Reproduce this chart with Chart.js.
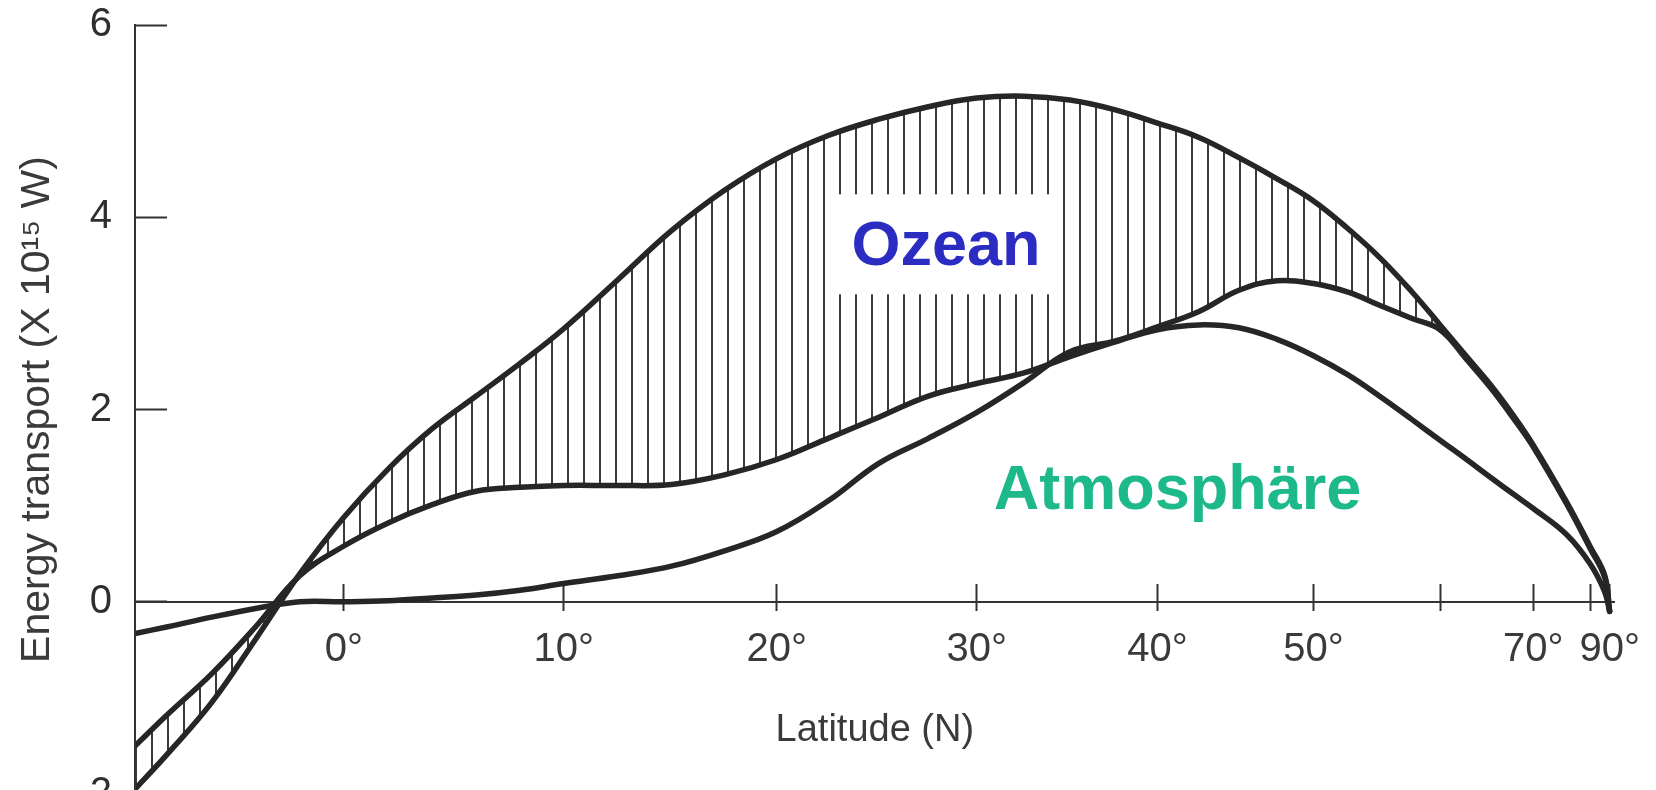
<!DOCTYPE html>
<html>
<head>
<meta charset="utf-8">
<title>Energy transport</title>
<script src="https://cdn.jsdelivr.net/npm/chart.js@4.4.0/dist/chart.umd.min.js"></script>
<style>
  html, body { margin: 0; padding: 0; background: #fff; overflow: hidden; }
</style>
</head>
<body>
<canvas id="myChart" width="1656" height="830"></canvas>
<script>
// latitude (degrees N) of every reading, x axis is drawn in sin(latitude)
const latitudes = [-9.5, -8, -6, -4, -2, 0, 2, 4, 6, 8, 10, 12.5, 15, 17.5, 20, 22.5, 25, 27.5, 30, 32.5,
    35, 37.5, 40, 42.5, 45, 47.5, 50, 52.5, 55, 57.5, 60, 62.5, 65, 67.5, 70, 75, 80, 85, 90];

// top curve (total transport)
const totalTransport = [-1.95, -1.58, -1.05, -0.39, 0.29, 0.88, 1.38, 1.80, 2.14, 2.48, 2.84, 3.35, 3.86, 4.28, 4.61, 4.85, 5.02, 5.15, 5.24, 5.26,
    5.22, 5.12, 4.98, 4.83, 4.62, 4.40, 4.17, 3.88, 3.57, 3.23, 2.88, 2.55, 2.25, 1.94, 1.63, 1.04, 0.57, 0.27, -0.10];

// curve with the plateau near 10-15 deg (lower edge of the hatching up to ~33 deg)
const plateauCurve = [-1.50, -1.17, -0.75, -0.26, 0.27, 0.58, 0.82, 1.01, 1.15, 1.19, 1.21, 1.21, 1.22, 1.32, 1.48, 1.70, 1.92, 2.14, 2.27, 2.38,
    2.55, 2.70, 2.83, 2.88, 2.85, 2.73, 2.56, 2.36, 2.13, 1.90, 1.68, 1.48, 1.29, 1.12, 0.97, 0.70, 0.39, 0.10, -0.10];

// curve starting near zero (lower edge of the hatching beyond ~33 deg)
const risingCurve = [-0.33, -0.26, -0.16, -0.07, 0.00, 0.00, 0.01, 0.04, 0.07, 0.12, 0.19, 0.27, 0.37, 0.53, 0.73, 1.05, 1.44, 1.70, 1.97, 2.28,
    2.60, 2.71, 2.86, 3.02, 3.24, 3.34, 3.31, 3.22, 3.08, 2.95, 2.83, 2.52, 2.22, 1.91, 1.61, 1.02, 0.55, 0.25, -0.10];

const tickLatitudes = [0, 10, 20, 30, 40, 50, 60, 70, 80, 90];
const tickLabels = ['0°', '10°', '20°', '30°', '40°', '50°', '', '70°', '', '90°'];

const ozeanLabel = { text: 'Ozean', lat: 28.4, value: 3.5 };
const atmosLabel = { text: 'Atmosphäre', lat: 41.2, value: 0.97 };

const rad = Math.PI / 180;
const toX = lat => Math.sin(lat * rad);
const points = values => latitudes.map((lat, i) => ({ x: toX(lat), y: values[i] }));

const ink = '#262626';
const axisInk = '#333';
const fontFamily = "'Liberation Sans', Arial, Helvetica, sans-serif";

// vertical hatching for the area between the curves
const tile = document.createElement('canvas');
tile.width = 16;
tile.height = 16;
const tctx = tile.getContext('2d');
tctx.strokeStyle = '#3a3a3a';
tctx.lineWidth = 2;
tctx.beginPath();
tctx.moveTo(8, 0);
tctx.lineTo(8, 16);
tctx.stroke();
const hatch = tctx.createPattern(tile, 'repeat');

const setTicks = scale => {
    scale.ticks = tickLatitudes.map(l => ({ value: toX(l) }));
};

const regionLabels = {
    id: 'regionLabels',
    afterDatasetsDraw(chart) {
        const c = chart.ctx;
        const xs = chart.scales.x, ys = chart.scales.y;
        c.save();

        c.font = 'bold 63px ' + fontFamily;
        let w = c.measureText(ozeanLabel.text).width;
        let px = xs.getPixelForValue(toX(ozeanLabel.lat));
        let py = ys.getPixelForValue(ozeanLabel.value);
        c.fillStyle = '#fff';
        c.fillRect(px - w / 2 - 17, py - 71, w + 34, 100);
        c.fillStyle = '#2b2cc2';
        c.textAlign = 'center';
        c.textBaseline = 'alphabetic';
        c.fillText(ozeanLabel.text, px, py);

        px = xs.getPixelForValue(toX(atmosLabel.lat));
        py = ys.getPixelForValue(atmosLabel.value);
        c.fillStyle = '#1db98b';
        c.fillText(atmosLabel.text, px, py);
        c.restore();
    }
};

const lineStyle = {
    borderColor: ink,
    borderWidth: 5.5,
    borderCapStyle: 'round',
    borderJoinStyle: 'round',
    pointRadius: 0,
    tension: 0.4
};

const ctx = document.getElementById('myChart');

new Chart(ctx, {
    type: 'line',
    data: {
        datasets: [{
            label: 'rising',
            data: points(risingCurve),
            ...lineStyle,
            fill: { target: 1, above: '#ffffff', below: 'rgba(0,0,0,0)' }
        }, {
            label: 'plateau',
            data: points(plateauCurve),
            ...lineStyle,
            fill: false
        }, {
            label: 'total',
            data: points(totalTransport),
            ...lineStyle,
            fill: { target: 1, above: hatch, below: hatch }
        }]
    },
    options: {
        responsive: false,
        animation: false,
        layout: { padding: { top: 25, bottom: 36, left: 0, right: 36 } },
        plugins: {
            legend: { display: false },
            tooltip: { enabled: false },
            filler: { drawTime: 'beforeDatasetsDraw' }
        },
        scales: {
            x: {
                type: 'linear',
                min: toX(-9.5),
                max: 1.004,
                position: { y: 0 },
                afterBuildTicks: setTicks,
                border: { display: true, color: axisInk, width: 2 },
                grid: { drawOnChartArea: false, tickLength: 8, tickWidth: 2, tickColor: axisInk },
                ticks: {
                    autoSkip: false,
                    maxRotation: 0,
                    padding: 16,
                    color: '#3a3a3a',
                    font: { family: fontFamily, size: 40 },
                    callback: (v, i) => tickLabels[i]
                },
                title: {
                    display: true,
                    text: 'Latitude (N)',
                    color: '#3a3a3a',
                    font: { family: fontFamily, size: 38 },
                    padding: { top: 18, bottom: 0 }
                }
            },
            x2: {
                type: 'linear',
                axis: 'x',
                min: toX(-9.5),
                max: 1.004,
                position: { y: 0 },
                afterBuildTicks: setTicks,
                border: { display: false },
                grid: { drawOnChartArea: false, tickLength: -18, tickWidth: 2, tickColor: axisInk },
                ticks: { display: false }
            },
            y: {
                min: -2,
                max: 6,
                afterFit: scale => {
                    scale.width = 135;
                    scale.paddingTop = 0;
                    scale.paddingBottom = 0;
                },
                border: { display: true, color: axisInk, width: 2, z: 1 },
                grid: { drawOnChartArea: false, tickLength: -32, tickWidth: 2, tickColor: axisInk },
                ticks: {
                    stepSize: 2,
                    padding: 55,
                    color: '#2e2e2e',
                    font: { family: fontFamily, size: 40 }
                },
                title: {
                    display: true,
                    text: 'Energy transport (X 10¹⁵ W)',
                    color: '#3a3a3a',
                    font: { family: fontFamily, size: 41 },
                    padding: { top: 13, bottom: 0 }
                }
            }
        }
    },
    plugins: [regionLabels]
});
</script>
</body>
</html>
